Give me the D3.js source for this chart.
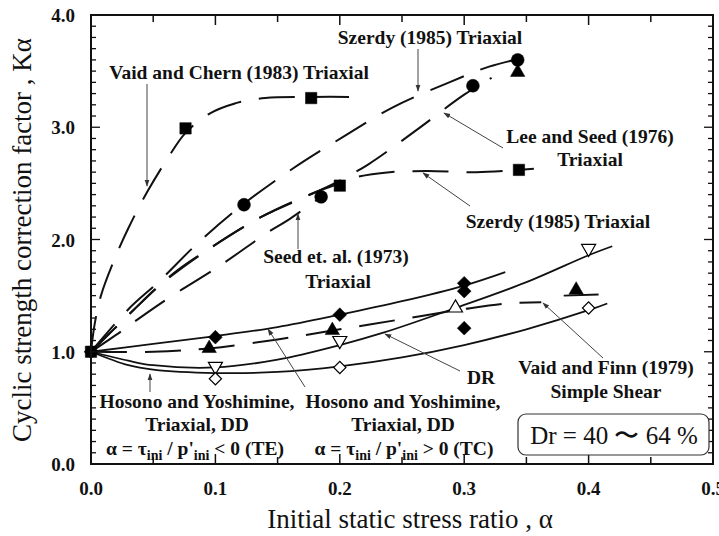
<!DOCTYPE html>
<html>
<head>
<meta charset="utf-8">
<script src="https://cdn.jsdelivr.net/npm/d3@7"></script>
<style>
  body { margin: 0; background: #fff; }
  svg { display: block; }
  .ann { font-family: "Liberation Serif", "Times New Roman", serif; font-weight: bold; font-size: 19.5px; fill: #111; }
  .tick-label { font-family: "Liberation Serif", serif; font-weight: bold; font-size: 19px; fill: #111; }
  .axis-title { font-family: "Liberation Serif", serif; font-size: 27px; fill: #111; }
</style>
</head>
<body>
<div id="graph"></div>
<script>
// curve points [alpha, K]
const vaidChern = [[0,1.0],[0.003,1.25],[0.008,1.5],[0.018,1.8],[0.03,2.1],[0.045,2.42],[0.062,2.73],[0.076,2.95],[0.095,3.12],[0.115,3.21],[0.14,3.26],[0.175,3.27],[0.216,3.27]];
const szerdyUpper = [[0,1.0],[0.031,1.39],[0.054,1.62],[0.087,1.98],[0.122,2.31],[0.162,2.63],[0.202,2.91],[0.243,3.18],[0.288,3.40],[0.320,3.54],[0.352,3.63]];
const leeSeed = [[0,1.0],[0.034,1.37],[0.055,1.59],[0.070,1.73],[0.094,1.91],[0.135,2.19],[0.150,2.27],[0.178,2.41],[0.194,2.49],[0.223,2.67],[0.261,2.97],[0.300,3.29],[0.322,3.44]];
const seedEtAl = [[0,1.0],[0.024,1.18],[0.039,1.30],[0.064,1.49],[0.104,1.77],[0.143,2.07],[0.158,2.17],[0.185,2.38]];
const szerdyLower = [[0,1.0],[0.034,1.37],[0.055,1.59],[0.094,1.91],[0.135,2.19],[0.178,2.41],[0.2,2.5],[0.215,2.56],[0.24,2.6],[0.27,2.61],[0.31,2.60],[0.356,2.63]];
const vaidFinn = [[0,1.0],[0.05,1.0],[0.095,1.03],[0.15,1.11],[0.2,1.2],[0.25,1.29],[0.3,1.38],[0.335,1.43],[0.362,1.44]];
const vaidFinnTail = [[0.38,1.50],[0.408,1.51]];
const hosonoTC = [[0,1.0],[0.05,1.07],[0.1,1.14],[0.15,1.22],[0.2,1.33],[0.25,1.45],[0.3,1.59],[0.333,1.71]];
const drLine = [[0,1.0],[0.03,0.92],[0.05,0.88],[0.1,0.86],[0.15,0.93],[0.2,1.06],[0.235,1.17],[0.293,1.39],[0.35,1.62],[0.4,1.86],[0.419,1.94]];
const hosonoTE = [[0,1.0],[0.03,0.88],[0.05,0.84],[0.1,0.81],[0.15,0.82],[0.2,0.87],[0.25,0.95],[0.3,1.06],[0.35,1.2],[0.4,1.37],[0.415,1.43]];

// markers
const fillSquares = [[0,1.0],[0.076,2.99],[0.177,3.26],[0.2,2.48],[0.344,2.62]];
const fillCircles = [[0.123,2.31],[0.185,2.38],[0.307,3.37],[0.343,3.6]];
const fillTriangles = [[0.095,1.03],[0.194,1.19],[0.343,3.49],[0.39,1.55]];
const fillDiamonds = [[0,1.0],[0.1,1.13],[0.2,1.33],[0.3,1.54],[0.3,1.61],[0.3,1.21]];
const openTriDown = [[0.1,0.87],[0.2,1.1],[0.4,1.92]];
const openTriUp = [[0.293,1.39]];
const openDiamonds = [[0.1,0.76],[0.2,0.86],[0.4,1.39]];

const xTicks = [0, 0.1, 0.2, 0.3, 0.4, 0.5];
const yTicks = [0, 1, 2, 3, 4];

let w = 719;
let h = 536;

const xScale = d3.scaleLinear().domain([0, 0.5]).range([91, 713]);
const yScale = d3.scaleLinear().domain([0, 4]).range([464, 15]);

const svg = d3.select("#graph")
              .append("svg")
              .attr("width", w)
              .attr("height", h);

const line = d3.line()
               .x(d => xScale(d[0]))
               .y(d => yScale(d[1]))
               .curve(d3.curveCatmullRom.alpha(0.5));

const plot = svg.append("g");

// dashed curves
[vaidChern, szerdyUpper, leeSeed, seedEtAl, szerdyLower, vaidFinn].forEach(c => {
  plot.append("path")
      .attr("d", line(c))
      .attr("fill", "none")
      .attr("stroke", "#111")
      .attr("stroke-width", 2)
      .attr("stroke-dasharray", "36,18");
});

plot.append("path")
    .attr("d", line(vaidFinnTail))
    .attr("fill", "none")
    .attr("stroke", "#111")
    .attr("stroke-width", 2);

// solid curves
[hosonoTC, drLine, hosonoTE].forEach(c => {
  plot.append("path")
      .attr("d", line(c))
      .attr("fill", "none")
      .attr("stroke", "#111")
      .attr("stroke-width", 1.8);
});

function markers(data, type, size, rot, filled) {
  plot.selectAll(null)
      .data(data)
      .enter()
      .append("path")
      .attr("d", d3.symbol().type(type).size(size))
      .attr("transform", d => `translate(${xScale(d[0])},${yScale(d[1])}) rotate(${rot})`)
      .attr("fill", filled ? "#000" : "#fff")
      .attr("stroke", "#000")
      .attr("stroke-width", filled ? 0.5 : 1.2);
}

markers(fillSquares, d3.symbolSquare, 130, 0, true);
markers(fillCircles, d3.symbolCircle, 130, 0, true);
markers(fillTriangles, d3.symbolTriangle, 90, 0, true);
markers(fillDiamonds, d3.symbolSquare, 95, 45, true);
markers(openTriDown, d3.symbolTriangle, 85, 180, false);
markers(openTriUp, d3.symbolTriangle, 85, 0, false);
markers(openDiamonds, d3.symbolSquare, 75, 45, false);

// leader lines with arrow heads
svg.append("defs")
   .append("marker")
   .attr("id", "arrow")
   .attr("viewBox", "0 0 10 10")
   .attr("refX", 9)
   .attr("refY", 5)
   .attr("markerWidth", 7)
   .attr("markerHeight", 7)
   .attr("orient", "auto")
   .append("path")
   .attr("d", "M0,1.5 L10,5 L0,8.5 Z")
   .attr("fill", "#333");

const leaders = [
  [147, 84, 147, 186],
  [418, 49, 418, 91],
  [503, 148, 444, 113],
  [470, 206, 423, 173],
  [298, 249, 298, 214],
  [150, 392, 150, 374],
  [305, 387, 268, 329],
  [460, 371, 385, 334],
  [603, 358, 543, 303]
];

svg.selectAll(".leader")
   .data(leaders)
   .enter()
   .append("line")
   .attr("class", "leader")
   .attr("x1", d => d[0])
   .attr("y1", d => d[1])
   .attr("x2", d => d[2])
   .attr("y2", d => d[3])
   .attr("stroke", "#444")
   .attr("stroke-width", 1)
   .attr("marker-end", "url(#arrow)");

// frame and ticks
svg.append("rect")
   .attr("x", 91)
   .attr("y", 15)
   .attr("width", 622)
   .attr("height", 449)
   .attr("fill", "none")
   .attr("stroke", "#111")
   .attr("stroke-width", 2);

const xAll = d3.range(0, 0.5001, 0.05);
const yAll = d3.range(0, 4.0001, 0.1);

xAll.forEach((v, i) => {
  let len = i % 2 === 0 ? 10 : 7;
  svg.append("line").attr("x1", xScale(v)).attr("x2", xScale(v))
     .attr("y1", 464).attr("y2", 464 - len).attr("stroke", "#111").attr("stroke-width", 1.5);
  svg.append("line").attr("x1", xScale(v)).attr("x2", xScale(v))
     .attr("y1", 15).attr("y2", 15 + len).attr("stroke", "#111").attr("stroke-width", 1.5);
});

yAll.forEach((v, i) => {
  let len = i % 10 === 0 ? 9 : 5;
  svg.append("line").attr("x1", 91).attr("x2", 91 + len)
     .attr("y1", yScale(v)).attr("y2", yScale(v)).attr("stroke", "#111").attr("stroke-width", 1.3);
  svg.append("line").attr("x1", 713).attr("x2", 713 - len)
     .attr("y1", yScale(v)).attr("y2", yScale(v)).attr("stroke", "#111").attr("stroke-width", 1.3);
});

svg.selectAll(".xl")
   .data(xTicks)
   .enter()
   .append("text")
   .attr("class", "tick-label")
   .attr("x", d => xScale(d))
   .attr("y", 495)
   .attr("text-anchor", "middle")
   .text(d => d.toFixed(1));

svg.selectAll(".yl")
   .data(yTicks)
   .enter()
   .append("text")
   .attr("class", "tick-label")
   .attr("x", 75)
   .attr("y", d => yScale(d) + 7)
   .attr("text-anchor", "end")
   .text(d => d.toFixed(1));

svg.append("text")
   .attr("class", "axis-title")
   .attr("x", 410)
   .attr("y", 528)
   .attr("text-anchor", "middle")
   .text("Initial static stress ratio , α");

svg.append("text")
   .attr("class", "axis-title")
   .attr("transform", "translate(31,240) rotate(-90)")
   .attr("text-anchor", "middle")
   .text("Cyclic strength correction factor , Kα");

// annotations
const labels = [
  ["Vaid and Chern (1983) Triaxial", 239, 79],
  ["Szerdy (1985) Triaxial", 430, 44],
  ["Lee and Seed (1976)", 590, 143],
  ["Triaxial", 590, 166],
  ["Szerdy (1985) Triaxial", 558, 228],
  ["Seed et. al. (1973)", 336, 263],
  ["Triaxial", 338, 288],
  ["Hosono and Yoshimine,", 197, 408],
  ["Triaxial, DD", 197, 431],
  ["Hosono and Yoshimine,", 403, 408],
  ["Triaxial, DD", 403, 431],
  ["DR", 481, 384],
  ["Vaid and Finn (1979)", 606, 374],
  ["Simple Shear", 606, 398]
];

svg.selectAll(".ann-t")
   .data(labels)
   .enter()
   .append("text")
   .attr("class", "ann")
   .attr("x", d => d[1])
   .attr("y", d => d[2])
   .attr("text-anchor", "middle")
   .text(d => d[0]);

function alphaLabel(cx, sign, tag) {
  let t = svg.append("text")
             .attr("class", "ann")
             .attr("x", cx)
             .attr("y", 455)
             .attr("text-anchor", "middle");
  t.append("tspan").text("α = τ");
  t.append("tspan").attr("dy", 5).style("font-size", "14px").text("ini");
  t.append("tspan").attr("dy", -5).text(" / p'");
  t.append("tspan").attr("dy", 5).style("font-size", "14px").text("ini");
  t.append("tspan").attr("dy", -5).text(` ${sign} 0 (${tag})`);
}

alphaLabel(195, "<", "TE");
alphaLabel(404, ">", "TC");

// density box
svg.append("rect")
   .attr("x", 518)
   .attr("y", 414)
   .attr("width", 191)
   .attr("height", 41)
   .attr("rx", 8)
   .attr("fill", "#fff")
   .attr("stroke", "#333")
   .attr("stroke-width", 1.2);

svg.append("text")
   .attr("x", 614)
   .attr("y", 444)
   .attr("text-anchor", "middle")
   .style("font-family", "'Liberation Serif', serif")
   .style("font-size", "25px")
   .style("fill", "#111")
   .text("Dr = 40 〜 64 %");
</script>
</body>
</html>
